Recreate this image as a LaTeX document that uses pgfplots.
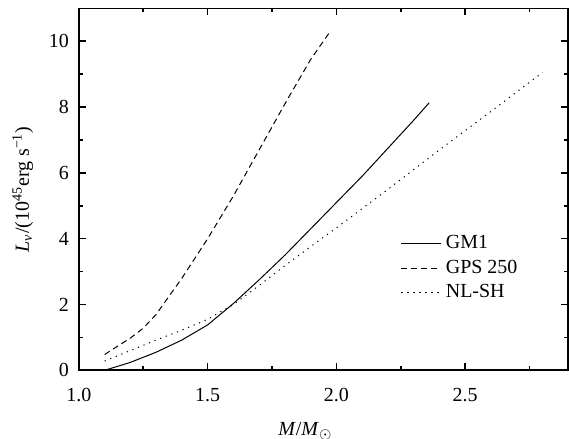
\documentclass[border=0pt]{standalone}
\usepackage{fontspec}
\setmainfont{Liberation Serif}
\usepackage{pgfplots}
\pgfplotsset{compat=1.18}
\usetikzlibrary{calc}
\begin{document}
\begin{tikzpicture}
\begin{axis}[name=ax,
  scale only axis, width=245pt, height=181.2pt,
  xmin=1.0, xmax=2.9, ymin=0, ymax=11,
  xtick={1.0,1.5,2.0,2.5}, minor xtick={1.25,1.75,2.25,2.75},
  ytick={0,2,4,6,8,10}, minor ytick={1,3,5,7,9},
  tick align=inside, major tick length=3.5pt, minor tick length=2pt,
  every tick/.style={black, line width=0.8pt},
  axis line style={line width=0.8pt},
  xticklabel style={/pgf/number format/fixed, /pgf/number format/fixed zerofill, /pgf/number format/precision=1, yshift=-5.5pt},
  yticklabel style={xshift=-1.5pt},
  /pgf/number format/assume math mode=true,
  tick label style={font=\fontsize{10}{12}\selectfont},
  label style={font=\fontsize{10}{12}\selectfont},
  xlabel={\textit{M}/\textit{M}\textsubscript{$\odot$}},
  ylabel={\textit{L}\textsubscript{\textit{ν}}/(10\textsuperscript{45}erg s\textsuperscript{−1})},
  xlabel style={at={(rel axis cs:0.463,0)}, anchor=north, yshift=-22.5pt},
  ylabel style={yshift=1pt},
  legend style={at={(rel axis cs:0.645,0.395)}, anchor=north west, draw=none, fill=none,
    font=\fontsize{10}{12}\selectfont, row sep=0pt, legend cell align=left},
  legend image code/.code={\draw[#1] (0pt,0pt) -- (20pt,0pt);},
]
\addplot[black, line width=0.5pt] coordinates {
 (1.1,0) (1.2,0.24) (1.3,0.55) (1.4,0.92) (1.5,1.38) (1.6,2.03) (1.7,2.75)
 (1.8,3.5) (1.9,4.3) (2.0,5.1) (2.1,5.9) (2.2,6.75) (2.3,7.6) (2.36,8.13)};
\addlegendentry{GM1}
\addplot[black, line width=0.5pt, dash pattern=on 3pt off 2pt] coordinates {
 (1.1,0.48) (1.2,0.98) (1.25,1.28) (1.3,1.7) (1.4,2.8) (1.5,4.0) (1.6,5.3)
 (1.7,6.7) (1.8,8.1) (1.9,9.45) (1.976,10.3)};
\addlegendentry{GPS 250}
\addplot[black, line width=0.5pt, dash pattern=on 0.6pt off 2.4pt] coordinates {
 (1.1,0.28) (1.2,0.6) (1.3,0.92) (1.4,1.22) (1.5,1.55) (1.6,2.0) (1.7,2.58)
 (1.8,3.18) (1.9,3.76) (2.0,4.33) (2.2,5.5) (2.4,6.7) (2.6,7.87) (2.8,9.05)};
\addlegendentry{NL-SH}
\end{axis}
\pgfresetboundingbox
\path[use as bounding box] ($(ax.south west)+(-39.5pt,-34.2pt)$) rectangle ($(ax.north east)+(0.4pt,4.2pt)$);
\end{tikzpicture}
\end{document}
